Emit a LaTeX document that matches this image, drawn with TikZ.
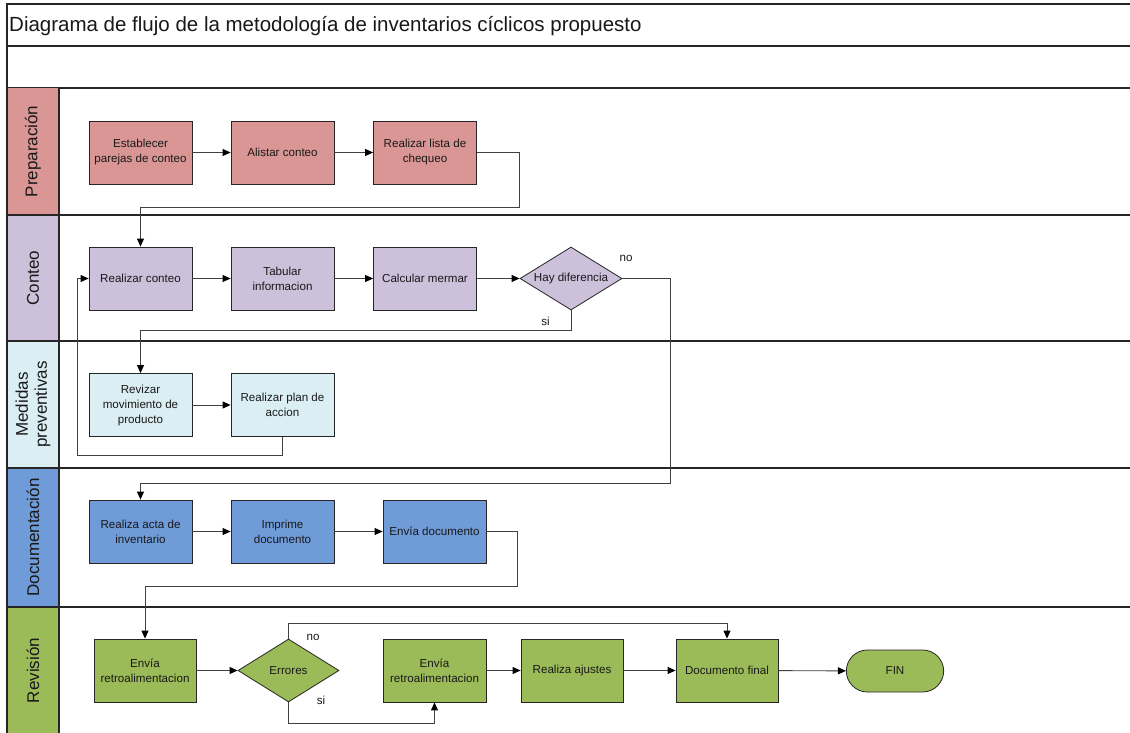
\documentclass[tikz,border=0pt]{standalone}
\usepackage{fontspec}
\setmainfont{Liberation Sans}
\usetikzlibrary{arrows.meta,shapes.geometric,shapes.misc}
\definecolor{cprep}{HTML}{DA9694}
\definecolor{ccont}{HTML}{CCC0DA}
\definecolor{cmed}{HTML}{DAEEF3}
\definecolor{cdoc}{HTML}{6F9BD8}
\definecolor{crev}{HTML}{9BBB59}
\definecolor{cline}{HTML}{262626}
\definecolor{carrow}{HTML}{404040}
\tikzset{
  lanebox/.style={draw=cline, line width=1.2pt},
  lanelabel/.style={rotate=90, font=\fontsize{17}{19}\selectfont, align=center, text=black!90},
  procbox/.style={draw=black!85, line width=0.8pt, minimum width=103pt, minimum height=63pt,
    align=center, inner sep=1pt, font=\fontsize{11.6}{15}\selectfont, text=black!90},
  decbox/.style={diamond, draw=black!85, line width=0.8pt, minimum width=102pt, minimum height=63pt,
    aspect=1.6, inner sep=0pt, align=center, font=\fontsize{11.6}{15}\selectfont, text=black!90},
  termbox/.style={rounded rectangle, draw=black!85, line width=0.8pt, minimum width=104pt, minimum height=42pt,
    align=center, font=\fontsize{11.6}{15}\selectfont, text=black!90},
  flow/.style={draw=carrow, line width=0.9pt, -{Triangle[length=8pt,width=7pt,fill=black,color=black]}},
  edgelabel/.style={font=\fontsize{11.6}{13}\selectfont, text=black!90, inner sep=0pt}
}
\begin{document}
\begin{tikzpicture}[x=1pt,y=-1pt]
\useasboundingbox (0,0) rectangle (1130,733);
% frame and rows
\fill[white] (0,0) rectangle (1130,733);
\draw[lanebox] (1131,4) -- (7,4) -- (7,734);
\draw[lanebox] (7,46) -- (1131,46);
\draw[lanebox] (7,88) -- (1131,88);
\node[anchor=west, font=\fontsize{20.5}{23}\selectfont, text=black!90, inner sep=0pt] (title) at (9,26.5) {Diagrama de flujo de la metodología de inventarios cíclicos propuesto};
% lane label fills
\fill[cprep] (7,88) rectangle (59,215);
\fill[ccont] (7,215) rectangle (59,341);
\fill[cmed] (7,341) rectangle (59,468);
\fill[cdoc] (7,468) rectangle (59,607);
\fill[crev] (7,607) rectangle (59,734);
\draw[lanebox] (7,215) -- (1131,215);
\draw[lanebox] (7,341) -- (1131,341);
\draw[lanebox] (7,468) -- (1131,468);
\draw[lanebox] (7,607) -- (1131,607);
\draw[lanebox] (59,88) -- (59,734);
\draw[lanebox] (7,88) -- (7,734);
\node[lanelabel] (lprep) at (33,151.5) {Preparación};
\node[lanelabel] (lcont) at (33,278) {Conteo};
\node[lanelabel] (lmed) at (33,404.5) {Medidas\\preventivas};
\node[lanelabel] (ldoc) at (33,537.5) {Documentación};
\node[lanelabel] (lrev) at (33,670.5) {Revisión};
% Preparacion
\node[procbox, fill=cprep] (est) at (140.5,152.5) {Establecer\\parejas de conteo};
\node[procbox, fill=cprep] (alis) at (282.5,152.5) {Alistar conteo};
\node[procbox, fill=cprep] (lista) at (425,152.5) {Realizar lista de\\chequeo};
% Conteo
\node[procbox, fill=ccont] (rcont) at (140.5,278.5) {Realizar conteo};
\node[procbox, fill=ccont] (tab) at (282.5,278.5) {Tabular\\informacion};
\node[procbox, fill=ccont] (calc) at (425,278.5) {Calcular mermar};
\node[decbox, fill=ccont] (dif) at (571,278.5) {Hay diferencia};
% Medidas
\node[procbox, fill=cmed] (rev) at (140.5,405) {Revizar\\movimiento de\\producto};
\node[procbox, fill=cmed] (plan) at (282.5,405) {Realizar plan de\\accion};
% Documentacion
\node[procbox, fill=cdoc] (acta) at (140.5,531.5) {Realiza acta de\\inventario};
\node[procbox, fill=cdoc] (imp) at (282.5,531.5) {Imprime\\documento};
\node[procbox, fill=cdoc] (envd) at (434.5,531.5) {Envía documento};
% Revision
\node[procbox, fill=crev, minimum width=102pt] (retro1) at (145,670.5) {Envía\\retroalimentacion};
\node[decbox, fill=crev, minimum width=101pt] (err) at (288.5,670.5) {Errores};
\node[procbox, fill=crev] (retro2) at (434.5,670.5) {Envía\\retroalimentacion};
\node[procbox, fill=crev, minimum width=102pt] (ajus) at (572,670.5) {Realiza ajustes};
\node[procbox, fill=crev, minimum width=102pt] (final) at (727,670.5) {Documento final};
\node[termbox, fill=crev] (fin) at (895,671) {FIN};
% connectors
\draw[flow] (est) -- (alis);
\draw[flow] (alis) -- (lista);
\draw[flow] (lista.east) -| (519,207) -| (rcont.north);
\draw[flow] (rcont) -- (tab);
\draw[flow] (tab) -- (calc);
\draw[flow] (calc) -- (dif);
\draw[flow] (dif.east) -| (670,483) -| (acta.north);
\draw[flow] (dif.south) -- ++(0,20) -| (rev.north);
\draw[flow] (rev) -- (plan);
\draw[flow] (plan.south) |- (77,455) |- (rcont.west);
\draw[flow] (acta) -- (imp);
\draw[flow] (imp) -- (envd);
\draw[flow] (envd.east) -| (517,586) -| (retro1.north);
\draw[flow] (retro1) -- (err);
\draw[flow] (err.north) -- ++(0,-15) -| (final.north);
\draw[flow] (err.south) -- ++(0,21) -| (retro2.south);
\draw[flow] (retro2) -- (ajus);
\draw[flow] (ajus) -- (final);
\draw[flow] (final) -- (fin);
% edge labels
\node[edgelabel] (lno1) at (626,258) {no};
\node[edgelabel] (lsi1) at (545.5,321) {si};
\node[edgelabel] (lno2) at (313,637) {no};
\node[edgelabel] (lsi2) at (321,700) {si};
\end{tikzpicture}
\end{document}
